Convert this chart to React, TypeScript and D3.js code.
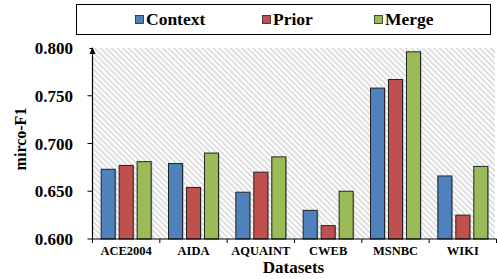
import { useEffect, useRef } from "react";
import * as d3 from "d3";

const categories = ["ACE2004", "AIDA", "AQUAINT", "CWEB", "MSNBC", "WIKI"];
const seriesNames = ["Context", "Prior", "Merge"];
const context = [0.673, 0.679, 0.649, 0.63, 0.758, 0.666];
const prior = [0.677, 0.654, 0.67, 0.614, 0.767, 0.625];
const merge = [0.681, 0.69, 0.686, 0.65, 0.796, 0.676];
const yTicks = [0.6, 0.65, 0.7, 0.75, 0.8];
const colors = ["#4F81BD", "#C0504D", "#9BBB59"];

const W = 497;
const H = 279;
const font = "Liberation Serif";

export default function App() {
  const ref = useRef<SVGSVGElement>(null);

  useEffect(() => {
    if (!ref.current) return;
    const svg = d3.select(ref.current);
    svg.selectAll("*").remove();

    const left = 92.5;
    const right = 496.5;
    const top = 48;
    const bottom = 239;

    const x = d3.scaleBand<string>().domain(categories).range([left, right]).paddingInner(0).paddingOuter(0);
    const inner = d3.scaleBand<string>().domain(seriesNames).range([x.bandwidth() / 2 - 25, x.bandwidth() / 2 + 25]).paddingInner(0.22);
    const y = d3.scaleLinear().domain([0.6, 0.8]).range([bottom, top]);

    const defs = svg.append("defs");
    const pat = defs
      .append("pattern")
      .attr("id", "hatch")
      .attr("patternUnits", "userSpaceOnUse")
      .attr("width", 4)
      .attr("height", 4)
      .attr("patternTransform", "rotate(-45)");
    pat.append("rect").attr("width", 4).attr("height", 4).attr("fill", "#fff");
    pat.append("line").attr("x1", 1).attr("y1", 0).attr("x2", 1).attr("y2", 4).attr("stroke", "#c8c8c8").attr("stroke-width", 1.2);

    svg
      .append("rect")
      .attr("x", left)
      .attr("y", top)
      .attr("width", W - 2 - left)
      .attr("height", bottom - top)
      .attr("fill", "url(#hatch)");

    // legend
    svg
      .append("rect")
      .attr("x", 76.5)
      .attr("y", 4.5)
      .attr("width", 414)
      .attr("height", 30)
      .attr("fill", "#fff")
      .attr("stroke", "#000")
      .attr("stroke-width", 1);
    const legX = [135, 262, 374];
    seriesNames.forEach((s, i) => {
      svg
        .append("rect")
        .attr("x", legX[i] + 0.5)
        .attr("y", 15.5)
        .attr("width", 8)
        .attr("height", 8)
        .attr("fill", colors[i])
        .attr("stroke", "#222")
        .attr("stroke-width", 0.8);
      svg
        .append("text")
        .attr("x", legX[i] + 11)
        .attr("y", 25)
        .style("font-family", font)
        .attr("font-weight", "bold")
        .attr("font-size", 17.5)
        .text(s);
    });

    // bars
    const series = [context, prior, merge];
    series.forEach((vals, si) => {
      svg
        .append("g")
        .selectAll("rect.shadow")
        .data(vals)
        .join("rect")
        .attr("x", (_, i) => (x(categories[i]) as number) + (inner(seriesNames[si]) as number) + 1.2)
        .attr("y", (d) => y(d) + 1)
        .attr("width", inner.bandwidth())
        .attr("height", (d) => bottom - y(d) - 1)
        .attr("fill", "#999")
        .attr("opacity", 0.6);
      svg
        .append("g")
        .selectAll("rect.bar")
        .data(vals)
        .join("rect")
        .attr("x", (_, i) => (x(categories[i]) as number) + (inner(seriesNames[si]) as number))
        .attr("y", (d) => y(d))
        .attr("width", inner.bandwidth())
        .attr("height", (d) => bottom - y(d))
        .attr("fill", colors[si])
        .attr("stroke", "#222")
        .attr("stroke-width", 1);
    });

    // y axis
    svg.append("line").attr("x1", left).attr("x2", left).attr("y1", bottom).attr("y2", top + 2).attr("stroke", "#000").attr("stroke-width", 1.2);
    svg
      .append("path")
      .attr("d", `M${left - 3},${top + 6} L${left},${top - 1} L${left + 3},${top + 6} Z`)
      .attr("fill", "#000");
    yTicks.forEach((t) => {
      if (t < 0.8) {
        svg.append("line").attr("x1", left - 5).attr("x2", left).attr("y1", y(t)).attr("y2", y(t)).attr("stroke", "#000");
      }
      svg
        .append("text")
        .attr("x", 73)
        .attr("y", y(t) + 6)
        .attr("text-anchor", "end")
        .style("font-family", font)
        .attr("font-weight", "bold")
        .attr("font-size", 17)
        .text(d3.format(".3f")(t));
    });
    svg.append("line").attr("x1", left - 3).attr("x2", left).attr("y1", top + 0.5).attr("y2", top + 0.5).attr("stroke", "#000");

    // x axis
    svg.append("line").attr("x1", left).attr("x2", right).attr("y1", bottom).attr("y2", bottom).attr("stroke", "#000").attr("stroke-width", 1.2);
    [...categories.map((c) => x(c) as number), right].forEach((px) => {
      svg.append("line").attr("x1", px).attr("x2", px).attr("y1", bottom).attr("y2", bottom + 4).attr("stroke", "#000");
    });
    categories.forEach((c) => {
      svg
        .append("text")
        .attr("x", (x(c) as number) + x.bandwidth() / 2)
        .attr("y", 255)
        .attr("text-anchor", "middle")
        .style("font-family", font)
        .attr("font-weight", "bold")
        .attr("font-size", 12.5)
        .text(c);
    });

    svg
      .append("text")
      .attr("x", 293.5)
      .attr("y", 273)
      .attr("text-anchor", "middle")
      .style("font-family", font)
      .attr("font-weight", "bold")
      .attr("font-size", 17)
      .text("Datasets");

    svg
      .append("text")
      .attr("transform", "translate(26,139) rotate(-90)")
      .attr("text-anchor", "middle")
      .style("font-family", font)
      .attr("font-weight", "bold")
      .attr("font-size", 16)
      .text("mirco-F1");
  }, []);

  return (
    <svg
      ref={ref}
      width={W}
      height={H}
      style={{ position: "absolute", left: 0, top: 0, display: "block" }}
    />
  );
}
